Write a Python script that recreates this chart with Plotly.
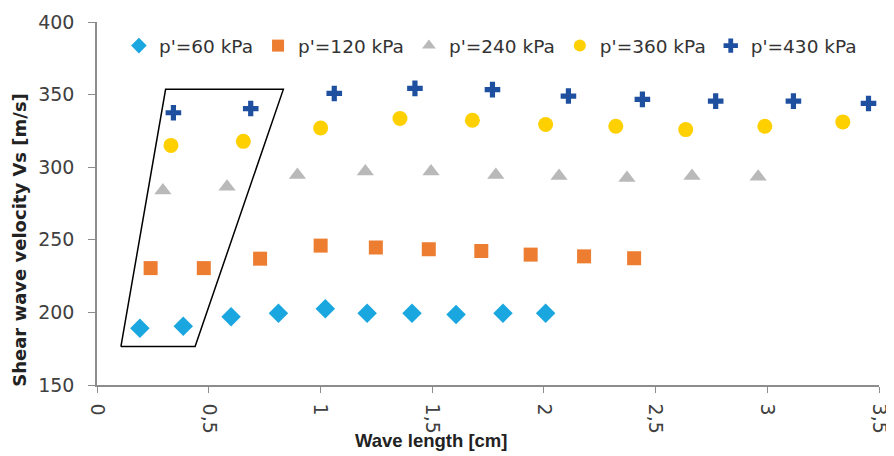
import plotly.graph_objects as go

# Data
x60 = [0.192, 0.386, 0.600, 0.812, 1.022, 1.209, 1.410, 1.607, 1.817, 2.008]
y60 = [189, 190.5, 197, 199.5, 202.5, 199.5, 199.5, 198.5, 199.5, 199.5]

x120 = [0.240, 0.478, 0.730, 1.001, 1.248, 1.485, 1.720, 1.941, 2.180, 2.404]
y120 = [230.5, 230.5, 237, 246, 244.7, 243.5, 242.3, 239.8, 238.6, 237.3]

x240 = [0.295, 0.582, 0.897, 1.201, 1.495, 1.785, 2.068, 2.372, 2.663, 2.959]
y240 = [284, 286.5, 294.7, 297, 297, 294.7, 294, 292.6, 294, 293.5]

x360 = [0.331, 0.655, 1.001, 1.356, 1.680, 2.008, 2.322, 2.635, 2.989, 3.338]
y360 = [315, 317.8, 327, 333.5, 332.3, 329.4, 328.2, 325.9, 328.2, 331.2]

x430 = [0.342, 0.688, 1.062, 1.423, 1.770, 2.110, 2.441, 2.769, 3.117, 3.453]
y430 = [337.5, 340.4, 350.8, 354.3, 353.4, 349, 346.7, 345.5, 345.5, 343.9]

series_names = ["p'=60 kPa", "p'=120 kPa", "p'=240 kPa", "p'=360 kPa", "p'=430 kPa"]

# Highlight polygon (annotation) vertices
poly_x = [0.107, 0.307, 0.834, 0.439, 0.107]
poly_y = [176.5, 353.6, 353.6, 176.5, 176.5]

x_ticks = [0, 0.5, 1, 1.5, 2, 2.5, 3, 3.5]
x_labels = ["0", "0,5", "1", "1,5", "2", "2,5", "3", "3,5"]
y_ticks = [150, 200, 250, 300, 350, 400]

x_title = "Wave length [cm]"
y_title = "Shear wave velocity Vs [m/s]"

styles = [
    dict(symbol="diamond", color="#1AA7E0", size=15),
    dict(symbol="square", color="#ED7D31", size=14),
    dict(symbol="triangle-up", color="#B9B9B9", size=15),
    dict(symbol="circle", color="#FFD000", size=15),
    dict(symbol="cross", color="#1F50A0", size=13),
]

fig = go.Figure()
fig.add_trace(go.Scatter(x=poly_x, y=poly_y, mode="lines",
                         line=dict(color="black", width=1.5),
                         showlegend=False, hoverinfo="skip"))

for name, xs, ys, st in zip(series_names, [x60, x120, x240, x360, x430],
                            [y60, y120, y240, y360, y430], styles):
    fig.add_trace(go.Scatter(
        x=xs, y=ys, mode="markers", name=name,
        marker=dict(symbol=st["symbol"], color=st["color"], size=st["size"],
                    line=dict(width=0)),
    ))

axis_font = dict(family="DejaVu Sans", size=19, color="#404040")
fig.update_layout(
    width=886, height=448,
    margin=dict(l=89, r=15, t=14, b=71),
    paper_bgcolor="white", plot_bgcolor="white",
    separators=", ",
    showlegend=True,
    legend=dict(orientation="h", x=0.028, y=0.986, xanchor="left", yanchor="top",
                font=dict(family="DejaVu Sans", size=18.5, color="#333333"),
                itemwidth=30, itemsizing="constant",
                bgcolor="rgba(0,0,0,0)", tracegroupgap=0),
    xaxis=dict(range=[0, 3.5], tickvals=x_ticks, ticktext=x_labels,
               tickangle=90, showgrid=False, zeroline=False, automargin=False,
               showline=True, linecolor="#8C8C8C", linewidth=1.5,
               ticks="outside", ticklen=6, tickcolor="#8C8C8C", tickfont=axis_font,
               ticklabelstandoff=7),
    yaxis=dict(range=[150, 400], tickvals=y_ticks, showgrid=False, zeroline=False,
               automargin=False,
               showline=True, linecolor="#8C8C8C", linewidth=1.5,
               ticks="outside", ticklen=7, tickcolor="#8C8C8C", tickfont=axis_font,
               ticklabelstandoff=10),
    annotations=[
        dict(text="<b>" + x_title + "</b>", xref="paper", yref="paper",
             x=0.427, y=-0.154, xanchor="center", yanchor="middle", showarrow=False,
             font=dict(family="Liberation Sans", size=18.5, color="#222222")),
        dict(text="<b>" + y_title + "</b>", xref="paper", yref="paper",
             x=-0.0985, y=0.40, xanchor="center", yanchor="middle", showarrow=False,
             textangle=-90,
             font=dict(family="DejaVu Sans", size=18, color="#222222")),
    ],
)

fig.write_html("out.html")
